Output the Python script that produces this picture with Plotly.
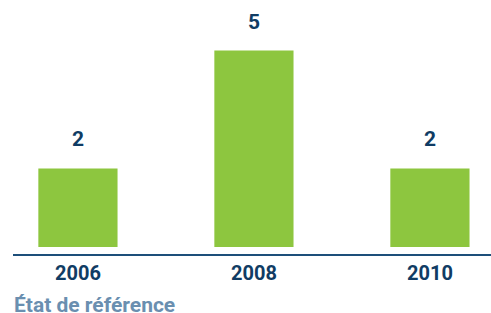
import plotly.graph_objects as go

years = ["2006", "2008", "2010"]
values = [2, 5, 2]
subtitle = "État de référence"

GREEN = "#8dc63f"
DARK = "#103c64"
LIGHT = "#6a8fb0"

fig = go.Figure()
fig.add_trace(go.Bar(
    x=years, y=values,
    marker=dict(color=GREEN, line=dict(width=0)),
    width=0.45, hoverinfo="skip",
))

for i, v in enumerate(values):
    fig.add_annotation(x=i, y=v, xref="x", yref="y", text=str(v), showarrow=False,
                       yanchor="middle", yshift=29,
                       font=dict(family="Roboto", size=21, color=DARK, weight="bold"))

fig.add_annotation(xref="paper", yref="paper", x=0, y=-0.2, xshift=-1,
                   xanchor="left", yanchor="middle", text=subtitle, showarrow=False,
                   font=dict(family="Roboto", size=21, color=LIGHT, weight="bold"))

fig.update_layout(
    width=491, height=313,
    margin=dict(l=13, r=0, t=0, b=59),
    paper_bgcolor="white", plot_bgcolor="white",
    showlegend=False,
    xaxis=dict(type="category", range=[-0.369, 2.347], showline=True,
               linecolor="#1d4f7a", linewidth=1.5, ticks="", showgrid=False,
               tickfont=dict(family="Roboto", size=20, color=DARK, weight="bold"),
               ticklabelstandoff=0),
    yaxis=dict(range=[-0.178, 6.285], showticklabels=False, showline=False,
               ticks="", showgrid=False, zeroline=False),
)

fig.write_html("out.html", config={"displayModeBar": False},
               post_script="document.body.style.margin='0';")
